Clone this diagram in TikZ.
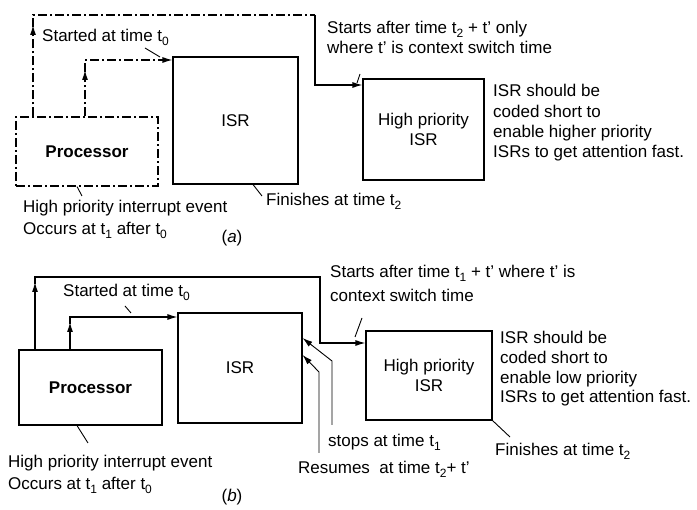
\documentclass[tikz,border=0pt]{standalone}
\usepackage{fontspec}
\setmainfont{Liberation Sans}
\usetikzlibrary{arrows.meta}
\newcommand{\tsb}[1]{\raisebox{-0.35ex}{\fontsize{12}{12}\selectfont #1}}
\begin{document}
\begin{tikzpicture}[x=1pt,y=-1pt,
  every node/.style={font=\fontsize{17}{20}\selectfont},
  box/.style={draw, line width=1.1pt, inner sep=0pt},
  ln/.style={line width=1.1pt},
  dA/.style={line width=1.1pt, dash pattern=on 9pt off 3pt on 2pt off 3pt},
  arr/.style={-{Latex[length=10pt,width=6pt]}},
  lbl/.style={anchor=base west, inner sep=0pt},
  lead/.style={line width=0.9pt}]
\useasboundingbox (0,0) rectangle (697,510);

% ---------------- (a) ----------------
\node[box, dA, minimum width=142pt, minimum height=69pt] (procA) at (87,151.5) {\textbf{Processor}};
\node[box, minimum width=125pt, minimum height=127pt] (isrA) at (235.5,120.5) {ISR};
\node[box, minimum width=121pt, minimum height=101pt, align=center] (hpA) at (423.5,129.5) {High priority\\ISR};

\draw[dA,arr] (procA.north -| 85,0) -- (85,70);
\draw[dA,arr] (85,72) -- (85,60) -- (isrA.west |- 0,60);
\draw[dA,arr] (procA.north -| 33,0) -- (33,25);
\draw[dA] (33,27) -- (33,15) -- (315,15);
\draw[ln,arr] (315,15) -- (315,85) -- (hpA.west |- 0,85);

\node[lbl] (stA) at (42,42) {Started at time t\tsb{0}};
\draw[lead] (145,48) -- (160,57);
\node[lbl] (saA1) at (327,34) {Starts after time t\tsb{2} + t’ only};
\node[lbl] (saA2) at (327,54) {where t’ is context switch time};
\draw[lead] (360,74) -- (357,83);
\node[lbl] (isA1) at (493,97) {ISR should be};
\node[lbl] (isA2) at (493,118) {coded short to};
\node[lbl] (isA3) at (493,138) {enable higher priority};
\node[lbl] (isA4) at (493,158) {ISRs to get attention fast.};
\draw[lead] (isrA.south -| 253,0) -- (262,196);
\node[lbl] (fiA) at (266,206) {Finishes at time t\tsb{2}};
\draw[lead] (procA.south -| 77,0) -- (82,196);
\node[lbl] (hiA1) at (23,213) {High priority interrupt event};
\node[lbl] (hiA2) at (23,235) {Occurs at t\tsb{1} after t\tsb{0}};
\node (capA) at (232,238) {(\textit{a})};

% ---------------- (b) ----------------
\node[box, minimum width=143pt, minimum height=75pt] (procB) at (90.5,387.5) {\textbf{Processor}};
\node[box, minimum width=124pt, minimum height=110pt] (isrB) at (240,368) {ISR};
\node[box, minimum width=126pt, minimum height=89pt, align=center] (hpB) at (429,375.5) {High priority\\ISR};

\draw[ln,arr] (procB.north -| 70,0) -- (70,322);
\draw[ln,arr] (70,324) -- (70,317) -- (isrB.west |- 0,317);
\draw[ln,arr] (procB.north -| 35,0) -- (35,282);
\draw[ln,arr] (35,284) -- (35,277) -- (320,277) -- (320,343) -- (hpB.west |- 0,343);

\node[lbl] (stB) at (63,297) {Started at time t\tsb{0}};
\draw[lead] (125,306) -- (131,313);
\node[lbl] (saB1) at (330,278) {Starts after time t\tsb{1} + t’ where t’ is};
\node[lbl] (saB2) at (330,302) {context switch time};
\draw[lead] (362,318) -- (355,337);
\node[lbl] (isB1) at (500,344) {ISR should be};
\node[lbl] (isB2) at (500,364) {coded short to};
\node[lbl] (isB3) at (500,384) {enable low priority};
\node[lbl] (isB4) at (500,403) {ISRs to get attention fast.};
\draw[lead] (hpB.south east) -- (510,437);
\node[lbl] (fiB) at (495,456) {Finishes at time t\tsb{2}};
\node[lbl] (stopB) at (328,447) {stops at time t\tsb{1}};
\node[lbl] (resB) at (298,474) {Resumes\ \ at time t\tsb{2}+ t’};
\draw[lead,arr] (332,425) -- (332,361) -- (isrB.east |- 0,338);
\draw[lead,arr] (319,453) -- (319,372) -- (isrB.east |- 0,355);
\draw[lead] (procB.south -| 77,0) -- (88,443);
\node[lbl] (hiB1) at (8,468) {High priority interrupt event};
\node[lbl] (hiB2) at (8,490) {Occurs at t\tsb{1} after t\tsb{0}};
\node (capB) at (232,497) {(\textit{b})};
\end{tikzpicture}
\end{document}
